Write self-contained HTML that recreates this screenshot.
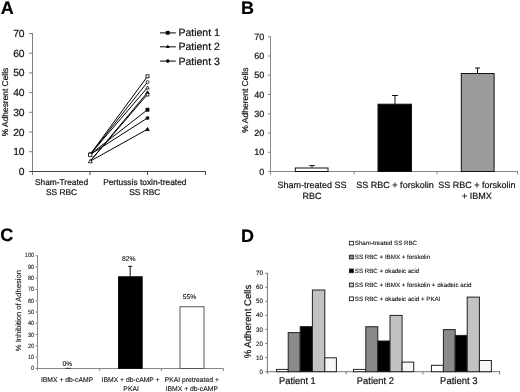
<!DOCTYPE html>
<html><head><meta charset="utf-8">
<style>
html,body{margin:0;padding:0;background:#fff;width:520px;height:392px;overflow:hidden}
svg{display:block;will-change:transform}
text{font-family:"Liberation Sans",sans-serif;fill:#111;text-rendering:geometricPrecision;stroke:#111;stroke-width:0.2px}
.lbl{font-weight:bold;font-size:18px;fill:#000}
.s1 text,text.s1{stroke-width:0.1px}
.s0 text,text.s0{stroke:none}
</style></head><body>
<svg width="520" height="392" viewBox="0 0 520 392">
<rect width="520" height="392" fill="#fff"/>

<!-- ============ PANEL A ============ -->
<text class="lbl" x="0.8" y="13.6">A</text>
<g stroke="#808080" stroke-width="1" fill="none">
  <line x1="32.5" y1="33" x2="32.5" y2="175"/>
  <line x1="29" y1="33.5" x2="32.5" y2="33.5"/>
  <line x1="29" y1="53.2" x2="32.5" y2="53.2"/>
  <line x1="29" y1="72.9" x2="32.5" y2="72.9"/>
  <line x1="29" y1="92.6" x2="32.5" y2="92.6"/>
  <line x1="29" y1="112.3" x2="32.5" y2="112.3"/>
  <line x1="29" y1="132" x2="32.5" y2="132"/>
  <line x1="29" y1="151.7" x2="32.5" y2="151.7"/>
</g>
<g stroke="#444" stroke-width="1" fill="none">
  <line x1="29" y1="171.5" x2="205.5" y2="171.5"/>
  <line x1="90" y1="171.5" x2="90" y2="175"/>
  <line x1="147.5" y1="171.5" x2="147.5" y2="175"/>
  <line x1="205.5" y1="171.5" x2="205.5" y2="175"/>
</g>
<g font-size="10.3" text-anchor="end">
  <text x="24.6" y="37">70</text>
  <text x="24.6" y="56.7">60</text>
  <text x="24.6" y="76.4">50</text>
  <text x="24.6" y="96.1">40</text>
  <text x="24.6" y="115.8">30</text>
  <text x="24.6" y="135.5">20</text>
  <text x="24.6" y="155.2">10</text>
  <text x="24.6" y="174.9">0</text>
</g>
<text font-size="8.4" text-anchor="middle" transform="translate(8.2,102) rotate(-90)">% Adhesrent Cells</text>
<g font-size="8.4" text-anchor="middle">
  <text x="61.5" y="185.2">Sham-Treated</text>
  <text x="61.5" y="194.6">SS RBC</text>
  <text x="144.8" y="185.2">Pertussis toxin-treated</text>
  <text x="144.8" y="194.6">SS RBC</text>
</g>
<!-- lines -->
<g stroke="#000" stroke-width="1" fill="none">
  <line x1="90" y1="154.6" x2="147.5" y2="76.3"/>
  <line x1="90" y1="154.6" x2="147.5" y2="82.1"/>
  <line x1="90" y1="154.6" x2="147.5" y2="87.6"/>
  <line x1="90" y1="161.3" x2="147.5" y2="92.4"/>
  <line x1="90" y1="161.3" x2="147.5" y2="94.3"/>
  <line x1="90" y1="154.6" x2="147.5" y2="109.7"/>
  <line x1="90" y1="154.6" x2="147.5" y2="118"/>
  <line x1="90" y1="161.3" x2="147.5" y2="129.2"/>
</g>
<!-- markers right -->
<g stroke="#000" stroke-width="0.8">
  <rect x="146" y="74.8" width="3" height="3" fill="#fff"/>
  <circle cx="147.5" cy="82.1" r="1.5" fill="#fff"/>
  <path d="M147.5 86 L149.2 89 L145.8 89 Z" fill="#fff"/>
  <path d="M147.5 90.8 L149.2 93.8 L145.8 93.8 Z" fill="#000"/>
  <rect x="146.1" y="93.2" width="2.8" height="2.8" fill="#fff"/>
  <rect x="146" y="108.2" width="3" height="3" fill="#000"/>
  <circle cx="147.5" cy="118" r="1.5" fill="#000"/>
  <path d="M147.5 127.4 L149.3 130.6 L145.7 130.6 Z" fill="#000"/>
</g>
<!-- markers left -->
<g stroke="#000" stroke-width="0.8" fill="#fff">
  <circle cx="90.3" cy="154" r="1.6"/>
  <rect x="88.6" y="153.2" width="3.3" height="3.3"/>
  <path d="M90.3 159.3 L92.2 162.8 L88.4 162.8 Z"/>
</g>
<!-- legend -->
<g stroke="#000" stroke-width="1">
  <line x1="160" y1="32.9" x2="175.8" y2="32.9"/>
  <line x1="160" y1="46.8" x2="175.8" y2="46.8"/>
  <line x1="160" y1="61.1" x2="175.8" y2="61.1"/>
</g>
<rect x="165.8" y="30.9" width="3.8" height="3.8" fill="#000"/>
<path d="M167.8 44.6 L169.7 48.1 L165.9 48.1 Z" fill="#000"/>
<circle cx="167.8" cy="61.1" r="1.8" fill="#000"/>
<g font-size="10.5">
  <text x="178.4" y="35.9">Patient 1</text>
  <text x="178.4" y="50.3">Patient 2</text>
  <text x="178.4" y="64.6">Patient 3</text>
</g>

<!-- ============ PANEL B ============ -->
<text class="lbl" x="240.9" y="13.7">B</text>
<g stroke="#888" stroke-width="1" fill="none">
  <line x1="270.5" y1="36.5" x2="270.5" y2="174.5"/>
  <line x1="268" y1="171.5" x2="518" y2="171.5"/>
  <line x1="354" y1="171.5" x2="354" y2="174.5"/>
  <line x1="437" y1="171.5" x2="437" y2="174.5"/>
  <line x1="517.5" y1="171.5" x2="517.5" y2="174.5"/>
  <line x1="268" y1="36.75" x2="270.5" y2="36.75"/>
  <line x1="268" y1="56" x2="270.5" y2="56"/>
  <line x1="268" y1="75.25" x2="270.5" y2="75.25"/>
  <line x1="268" y1="94.5" x2="270.5" y2="94.5"/>
  <line x1="268" y1="113.75" x2="270.5" y2="113.75"/>
  <line x1="268" y1="133" x2="270.5" y2="133"/>
  <line x1="268" y1="152.25" x2="270.5" y2="152.25"/>
</g>
<g font-size="9" text-anchor="end">
  <text x="264.3" y="39.9">70</text>
  <text x="264.3" y="59.15">60</text>
  <text x="264.3" y="78.4">50</text>
  <text x="264.3" y="97.65">40</text>
  <text x="264.3" y="116.9">30</text>
  <text x="264.3" y="136.15">20</text>
  <text x="264.3" y="155.4">10</text>
  <text x="264.3" y="174.65">0</text>
</g>
<text font-size="8.5" text-anchor="middle" transform="translate(248.3,100.1) rotate(-90)">% Adherent Cells</text>
<!-- bars -->
<g stroke="#111" stroke-width="1">
  <rect x="295.3" y="168" width="32.7" height="3.5" fill="#fff"/>
  <rect x="378" y="104.2" width="33.5" height="67.3" fill="#000"/>
  <rect x="461.3" y="73.5" width="32.8" height="98" fill="#9b9b9b"/>
  <line x1="312" y1="167.5" x2="312" y2="165.6"/>
  <line x1="309.3" y1="165.6" x2="314.8" y2="165.6"/>
  <line x1="395" y1="104" x2="395" y2="95.5"/>
  <line x1="392" y1="95.5" x2="398" y2="95.5"/>
  <line x1="477.5" y1="73.5" x2="477.5" y2="68"/>
  <line x1="475" y1="68" x2="480" y2="68"/>
</g>
<g font-size="9" text-anchor="middle">
  <text x="312" y="187.6">Sham-treated SS</text>
  <text x="312" y="198.7">RBC</text>
  <text x="395" y="187.6">SS RBC + forskolin</text>
  <text x="476.8" y="187.6">SS RBC + forskolin</text>
  <text x="476.8" y="198.7">+ IBMX</text>
</g>

<!-- ============ PANEL C ============ -->
<text class="lbl" x="0.2" y="241.2">C</text>
<g stroke="#888" stroke-width="1" fill="none">
  <line x1="37.5" y1="255.5" x2="37.5" y2="370.5"/>
  <line x1="35.5" y1="368.5" x2="223.5" y2="368.5"/>
  <line x1="99.7" y1="368.5" x2="99.7" y2="371"/>
  <line x1="161.4" y1="368.5" x2="161.4" y2="371"/>
  <line x1="223.4" y1="368.5" x2="223.4" y2="371"/>
</g>
<g stroke="#888" stroke-width="1">
  <line x1="35.5" y1="255.75" x2="37.5" y2="255.75"/>
  <line x1="35.5" y1="267.00" x2="37.5" y2="267.00"/>
  <line x1="35.5" y1="278.25" x2="37.5" y2="278.25"/>
  <line x1="35.5" y1="289.50" x2="37.5" y2="289.50"/>
  <line x1="35.5" y1="300.75" x2="37.5" y2="300.75"/>
  <line x1="35.5" y1="312.00" x2="37.5" y2="312.00"/>
  <line x1="35.5" y1="323.25" x2="37.5" y2="323.25"/>
  <line x1="35.5" y1="334.50" x2="37.5" y2="334.50"/>
  <line x1="35.5" y1="345.75" x2="37.5" y2="345.75"/>
  <line x1="35.5" y1="357.00" x2="37.5" y2="357.00"/>
</g>
<g font-size="6.2" text-anchor="end" class="s1">
  <text x="34" y="257.40" textLength="9.15" lengthAdjust="spacingAndGlyphs">100</text>
  <text x="34" y="268.70" textLength="6.10" lengthAdjust="spacingAndGlyphs">90</text>
  <text x="34" y="280.00" textLength="6.10" lengthAdjust="spacingAndGlyphs">80</text>
  <text x="34" y="291.30" textLength="6.10" lengthAdjust="spacingAndGlyphs">70</text>
  <text x="34" y="302.60" textLength="6.10" lengthAdjust="spacingAndGlyphs">60</text>
  <text x="34" y="313.90" textLength="6.10" lengthAdjust="spacingAndGlyphs">50</text>
  <text x="34" y="325.20" textLength="6.10" lengthAdjust="spacingAndGlyphs">40</text>
  <text x="34" y="336.50" textLength="6.10" lengthAdjust="spacingAndGlyphs">30</text>
  <text x="34" y="347.80" textLength="6.10" lengthAdjust="spacingAndGlyphs">20</text>
  <text x="34" y="359.10" textLength="6.10" lengthAdjust="spacingAndGlyphs">10</text>
  <text x="34" y="370.40" textLength="3.05" lengthAdjust="spacingAndGlyphs">0</text>
</g>
<text font-size="7.6" text-anchor="middle" class="s1" transform="translate(21.3,310.6) rotate(-90)">% Inhibition of Adhesion</text>
<rect x="180" y="306.75" width="24" height="61.75" fill="#fff" stroke="#555" stroke-width="1"/>
<line x1="65.5" y1="368.3" x2="71" y2="368.3" stroke="#333" stroke-width="1"/>
<g stroke="#111" stroke-width="1">
  <rect x="118.5" y="276.75" width="23.7" height="91.75" fill="#000"/>
  <line x1="130.2" y1="276.75" x2="130.2" y2="266.3"/>
  <line x1="128.2" y1="266.3" x2="132.2" y2="266.3"/>
</g>
<g font-size="6.8" text-anchor="middle" class="s1">
  <text x="67.3" y="365.8">0%</text>
  <text x="128.8" y="260.6">82%</text>
  <text x="189.6" y="299.3">55%</text>
</g>
<g font-size="6.8" text-anchor="middle" class="s1">
  <text x="67.1" y="382.4">IBMX + db-cAMP</text>
  <text x="130.6" y="382.4">IBMX + db-cAMP +</text>
  <text x="131.1" y="391.2">PKAI</text>
  <text x="191.8" y="382.4">PKAI pretreated +</text>
  <text x="191.8" y="391.2">IBMX + db-cAMP</text>
</g>

<!-- ============ PANEL D ============ -->
<text class="lbl" x="240.9" y="241.8">D</text>
<g stroke="#777" stroke-width="1" fill="none">
  <line x1="267.4" y1="273" x2="267.4" y2="374"/>
  <line x1="265.3" y1="371.7" x2="500" y2="371.7"/>
  <line x1="346.2" y1="371.7" x2="346.2" y2="374.5"/>
  <line x1="422.9" y1="371.7" x2="422.9" y2="374.5"/>
  <line x1="499.6" y1="371.7" x2="499.6" y2="374.5"/>
  <line x1="265.4" y1="273.3" x2="267.4" y2="273.3"/>
  <line x1="265.4" y1="287.3" x2="267.4" y2="287.3"/>
  <line x1="265.4" y1="301.3" x2="267.4" y2="301.3"/>
  <line x1="265.4" y1="315.3" x2="267.4" y2="315.3"/>
  <line x1="265.4" y1="329.4" x2="267.4" y2="329.4"/>
  <line x1="265.4" y1="343.5" x2="267.4" y2="343.5"/>
  <line x1="265.4" y1="357.6" x2="267.4" y2="357.6"/>
</g>
<g font-size="6.3" text-anchor="end" class="s1">
  <text x="263" y="275.4">70</text>
  <text x="263" y="289.4">60</text>
  <text x="263" y="303.4">50</text>
  <text x="263" y="317.4">40</text>
  <text x="263" y="331.5">30</text>
  <text x="263" y="345.6">20</text>
  <text x="263" y="359.7">10</text>
  <text x="263" y="373.8">0</text>
</g>
<text font-size="9.6" text-anchor="middle" transform="translate(250.9,321.5) rotate(-90)">% Adherent Cells</text>
<!-- legend -->
<g stroke="#222" stroke-width="0.9">
  <rect x="349.4" y="241.3" width="4" height="3.7" fill="#fff"/>
  <rect x="349.4" y="255.2" width="4" height="3.7" fill="#8a8a8a"/>
  <rect x="349.4" y="269" width="4" height="3.7" fill="#000"/>
  <rect x="349.4" y="283" width="4" height="3.8" fill="#c2c2c2"/>
  <rect x="349.4" y="296.9" width="4" height="3.8" fill="#f7f7f7"/>
</g>
<g font-size="6.2" class="s1">
  <text x="354.8" y="245.3">Sham-treated SS RBC</text>
  <text x="354.8" y="259.2">SS RBC + IBMX + forskolin</text>
  <text x="354.8" y="273.1">SS RBC + okadeic acid</text>
  <text x="354.8" y="287">SS RBC + IBMX + forskolin + okadeic acid</text>
  <text x="354.8" y="300.9">SS RBC + okadeic acid + PKAI</text>
</g>
<!-- bars -->
<g stroke="#222" stroke-width="1">
  <!-- P1 -->
  <rect x="276.6" y="369.4" width="11.6" height="2.3" fill="#fff"/>
  <rect x="288.2" y="332.6" width="12.0" height="39.1" fill="#8a8a8a"/>
  <rect x="300.2" y="326.6" width="12.2" height="45.1" fill="#000"/>
  <rect x="312.4" y="290.0" width="12.4" height="81.7" fill="#c2c2c2"/>
  <rect x="324.8" y="357.8" width="11.6" height="13.9" fill="#f7f7f7"/>
  <!-- P2 -->
  <rect x="353.5" y="369.4" width="12.3" height="2.3" fill="#fff"/>
  <rect x="365.8" y="326.7" width="12.0" height="45.0" fill="#8a8a8a"/>
  <rect x="377.8" y="341.0" width="12.2" height="30.7" fill="#000"/>
  <rect x="390.0" y="315.4" width="12.1" height="56.3" fill="#c2c2c2"/>
  <rect x="402.1" y="362.1" width="11.6" height="9.6" fill="#f7f7f7"/>
  <!-- P3 -->
  <rect x="431.4" y="365.3" width="12.0" height="6.4" fill="#fff"/>
  <rect x="443.4" y="329.6" width="11.8" height="42.1" fill="#8a8a8a"/>
  <rect x="455.2" y="335.4" width="12.0" height="36.3" fill="#000"/>
  <rect x="467.2" y="297.1" width="12.2" height="74.6" fill="#c2c2c2"/>
  <rect x="479.4" y="360.5" width="12.0" height="11.2" fill="#f7f7f7"/>
</g>
<g font-size="9.8" text-anchor="middle">
  <text x="297.4" y="384.2" textLength="36.6" lengthAdjust="spacingAndGlyphs">Patient 1</text>
  <text x="375.4" y="384.2" textLength="37.1" lengthAdjust="spacingAndGlyphs">Patient 2</text>
  <text x="458.8" y="384.2" textLength="37.4" lengthAdjust="spacingAndGlyphs">Patient 3</text>
</g>
</svg>
</body></html>
